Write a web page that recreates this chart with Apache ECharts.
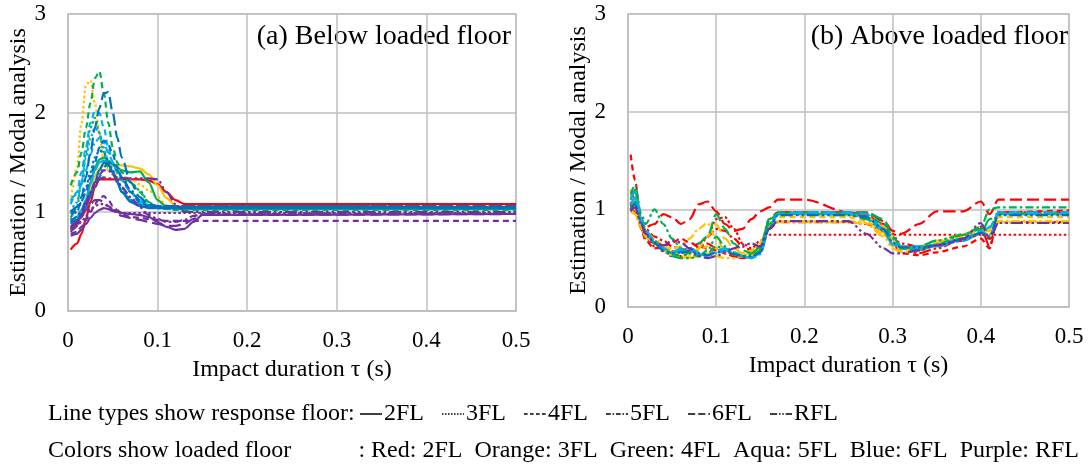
<!DOCTYPE html>
<html>
<head>
<meta charset="utf-8">
<script src="https://cdn.jsdelivr.net/npm/echarts@6.0.0/dist/echarts.min.js"></script>
<style>
  html, body { margin: 0; background: #fff; }
  #chart { width: 1089px; height: 469px; }
</style>
</head>
<body>
<div id="chart"></div>
<script>
// impact duration samples (s)
const tauBelow = [0.003, 0.01, 0.015, 0.02, 0.025, 0.03, 0.035, 0.04, 0.045, 0.05, 0.055, 0.06, 0.07, 0.08, 0.09, 0.1, 0.11, 0.12, 0.13, 0.14, 0.15, 0.5];
const tauAbove = [0.003, 0.008, 0.015, 0.02, 0.03, 0.04, 0.05, 0.06, 0.07, 0.08, 0.09, 0.1, 0.11, 0.12, 0.13, 0.14, 0.15, 0.16, 0.17, 0.2, 0.25, 0.27, 0.29, 0.3, 0.31, 0.33, 0.35, 0.38, 0.4, 0.41, 0.42, 0.5];

const yTicks = [0, 1, 2, 3];
const xTicks = [0, 0.1, 0.2, 0.3, 0.4, 0.5];

// (a) below loaded floor: loaded floor colour, response floor line type
const belowRed2FL    = [0.62, 0.68, 0.78, 0.93, 1.10, 1.25, 1.33, 1.33, 1.33, 1.33, 1.33, 1.33, 1.33, 1.33, 1.32, 1.28, 1.20, 1.12, 1.08, 1.08, 1.08, 1.08];
const belowOrange2FL = [0.80, 0.86, 0.96, 1.08, 1.22, 1.36, 1.44, 1.47, 1.47, 1.47, 1.47, 1.47, 1.46, 1.44, 1.38, 1.27, 1.14, 1.06, 1.04, 1.04, 1.04, 1.04];
const belowOrange3FL = [1.10, 1.45, 1.90, 2.28, 2.33, 2.10, 1.80, 1.50, 1.42, 1.40, 1.38, 1.36, 1.33, 1.28, 1.22, 1.15, 1.07, 1.04, 1.03, 1.03, 1.03, 1.03];
const belowGreen2FL  = [0.82, 0.88, 0.98, 1.12, 1.30, 1.45, 1.53, 1.55, 1.52, 1.48, 1.45, 1.42, 1.40, 1.41, 1.30, 1.12, 1.05, 1.03, 1.03, 1.03, 1.03, 1.03];
const belowGreen3FL  = [0.92, 1.05, 1.30, 1.60, 1.85, 1.95, 1.80, 1.60, 1.45, 1.38, 1.35, 1.33, 1.30, 1.22, 1.10, 1.04, 1.03, 1.03, 1.03, 1.03, 1.03, 1.03];
const belowGreen4FL  = [1.27, 1.40, 1.60, 1.85, 2.10, 2.35, 2.42, 2.20, 1.90, 1.65, 1.50, 1.40, 1.30, 1.20, 1.10, 1.05, 1.03, 1.02, 1.02, 1.02, 1.02, 1.02];
const belowAqua2FL   = [0.90, 0.95, 1.02, 1.12, 1.28, 1.42, 1.50, 1.52, 1.48, 1.40, 1.30, 1.20, 1.12, 1.08, 1.06, 1.05, 1.05, 1.05, 1.05, 1.05, 1.05, 1.05];
const belowAqua3FL   = [1.00, 1.10, 1.30, 1.55, 1.75, 1.85, 1.80, 1.65, 1.50, 1.40, 1.30, 1.22, 1.12, 1.07, 1.05, 1.04, 1.04, 1.04, 1.04, 1.04, 1.04, 1.04];
const belowAqua4FL   = [1.08, 1.20, 1.40, 1.65, 1.90, 2.02, 2.00, 1.85, 1.65, 1.50, 1.40, 1.32, 1.20, 1.10, 1.06, 1.05, 1.05, 1.05, 1.05, 1.05, 1.05, 1.05];
const belowAqua5FL   = [1.12, 1.18, 1.28, 1.42, 1.58, 1.70, 1.75, 1.70, 1.60, 1.50, 1.40, 1.32, 1.20, 1.12, 1.07, 1.05, 1.04, 1.04, 1.04, 1.04, 1.04, 1.04];
const belowBlue2FL   = [0.88, 0.92, 0.98, 1.05, 1.15, 1.30, 1.42, 1.50, 1.48, 1.40, 1.30, 1.20, 1.10, 1.06, 1.04, 1.04, 1.04, 1.04, 1.04, 1.04, 1.04, 1.04];
const belowBlue3FL   = [0.95, 1.00, 1.10, 1.25, 1.40, 1.55, 1.62, 1.60, 1.52, 1.42, 1.32, 1.24, 1.12, 1.07, 1.05, 1.05, 1.05, 1.05, 1.05, 1.05, 1.05, 1.05];
const belowBlue4FL   = [0.98, 1.02, 1.10, 1.20, 1.35, 1.50, 1.65, 1.72, 1.68, 1.58, 1.45, 1.35, 1.20, 1.10, 1.06, 1.05, 1.05, 1.05, 1.05, 1.05, 1.05, 1.05];
const belowBlue5FL   = [0.90, 0.95, 1.02, 1.10, 1.18, 1.25, 1.35, 1.45, 1.50, 1.48, 1.42, 1.35, 1.22, 1.12, 1.07, 1.06, 1.06, 1.06, 1.06, 1.06, 1.06, 1.06];
const belowBlue6FL   = [1.00, 1.05, 1.15, 1.35, 1.60, 1.85, 2.05, 2.20, 2.21, 2.00, 1.75, 1.55, 1.30, 1.15, 1.08, 1.06, 1.06, 1.06, 1.06, 1.06, 1.06, 1.06];
const belowPurple2FL = [0.76, 0.78, 0.82, 0.88, 0.94, 0.99, 1.02, 1.04, 1.03, 1.01, 1.00, 0.99, 0.98, 0.97, 0.95, 0.90, 0.85, 0.82, 0.83, 0.90, 0.97, 0.98];
const belowPurple3FL = [0.84, 0.86, 0.90, 0.96, 1.02, 1.06, 1.08, 1.08, 1.06, 1.03, 1.00, 0.99, 0.99, 0.99, 0.99, 0.99, 0.99, 0.99, 0.99, 0.99, 0.99, 0.99];
const belowPurple4FL = [0.78, 0.80, 0.85, 0.92, 1.00, 1.08, 1.14, 1.16, 1.12, 1.06, 1.02, 0.98, 0.95, 0.94, 0.93, 0.92, 0.91, 0.91, 0.91, 0.91, 0.91, 0.91];
const belowPurple5FL = [0.80, 0.85, 0.95, 1.08, 1.20, 1.30, 1.38, 1.42, 1.42, 1.38, 1.32, 1.25, 1.15, 1.05, 0.97, 0.93, 0.90, 0.90, 0.92, 0.96, 0.98, 0.98];
const belowPurple6FL = [0.83, 0.88, 0.95, 1.02, 1.08, 1.12, 1.12, 1.10, 1.06, 1.02, 0.98, 0.96, 0.94, 0.92, 0.90, 0.88, 0.86, 0.86, 0.88, 0.93, 0.97, 0.98];
const belowPurpleRFL = [0.85, 0.90, 0.98, 1.10, 1.20, 1.28, 1.33, 1.35, 1.34, 1.34, 1.34, 1.34, 1.34, 1.34, 1.34, 1.33, 1.20, 1.08, 1.00, 1.00, 1.00, 1.00];

// (b) above loaded floor
const aboveRed3FL    = [1.05, 1.20, 0.85, 0.72, 0.62, 0.57, 0.52, 0.52, 0.55, 0.60, 0.72, 0.90, 0.92, 0.80, 0.65, 0.60, 0.68, 0.74, 0.74, 0.74, 0.74, 0.74, 0.74, 0.74, 0.74, 0.74, 0.74, 0.74, 0.74, 0.74, 0.74, 0.74];
const aboveRed4FL    = [1.56, 1.30, 0.80, 0.68, 0.60, 0.62, 0.66, 0.70, 0.66, 0.62, 0.60, 0.58, 0.55, 0.52, 0.50, 0.52, 0.60, 0.82, 0.97, 0.97, 0.97, 0.95, 0.82, 0.65, 0.55, 0.53, 0.56, 0.62, 0.70, 0.60, 0.97, 0.99];
const aboveRed5FL    = [1.20, 1.10, 0.88, 0.80, 0.72, 0.68, 0.62, 0.58, 0.60, 0.65, 0.72, 0.80, 0.78, 0.70, 0.62, 0.58, 0.62, 0.80, 0.87, 0.87, 0.87, 0.85, 0.78, 0.70, 0.65, 0.62, 0.63, 0.68, 0.75, 0.70, 0.87, 0.87];
const aboveRed6FL    = [1.00, 1.05, 0.90, 0.82, 0.85, 0.95, 0.92, 0.85, 0.90, 1.05, 1.08, 0.98, 0.85, 0.78, 0.80, 0.90, 0.98, 1.02, 1.10, 1.10, 0.97, 0.97, 0.88, 0.78, 0.75, 0.85, 0.98, 0.98, 1.08, 0.95, 1.10, 1.10];
const aboveRedRFL    = [1.05, 0.98, 0.80, 0.70, 0.65, 0.60, 0.57, 0.55, 0.58, 0.62, 0.65, 0.60, 0.55, 0.52, 0.50, 0.52, 0.60, 0.88, 0.97, 0.97, 0.97, 0.93, 0.85, 0.75, 0.60, 0.55, 0.60, 0.70, 0.82, 0.62, 0.97, 0.97];
const aboveOrange4FL = [1.20, 1.10, 0.88, 0.78, 0.70, 0.63, 0.58, 0.55, 0.55, 0.58, 0.62, 0.60, 0.56, 0.54, 0.52, 0.54, 0.62, 0.85, 0.92, 0.92, 0.92, 0.88, 0.75, 0.62, 0.58, 0.60, 0.65, 0.72, 0.80, 0.72, 0.92, 0.92];
const aboveOrange5FL = [1.00, 1.00, 0.82, 0.72, 0.65, 0.62, 0.60, 0.62, 0.70, 0.80, 0.86, 0.70, 0.58, 0.55, 0.55, 0.58, 0.65, 0.84, 0.88, 0.88, 0.88, 0.86, 0.76, 0.65, 0.60, 0.62, 0.68, 0.74, 0.78, 0.78, 0.88, 0.88];
const aboveOrange6FL = [1.15, 1.08, 0.85, 0.75, 0.66, 0.58, 0.53, 0.50, 0.52, 0.60, 0.72, 0.85, 0.70, 0.60, 0.55, 0.53, 0.60, 0.82, 0.95, 0.95, 0.94, 0.92, 0.82, 0.70, 0.62, 0.60, 0.66, 0.75, 0.80, 0.80, 0.95, 0.95];
const aboveOrangeRFL = [0.98, 0.95, 0.80, 0.72, 0.65, 0.60, 0.56, 0.52, 0.50, 0.52, 0.55, 0.52, 0.50, 0.50, 0.52, 0.56, 0.65, 0.84, 0.87, 0.87, 0.87, 0.85, 0.72, 0.60, 0.56, 0.58, 0.64, 0.72, 0.80, 0.75, 0.87, 0.87];
const aboveGreen5FL  = [1.15, 1.25, 0.95, 0.85, 1.00, 0.85, 0.70, 0.60, 0.55, 0.52, 0.55, 0.62, 0.60, 0.55, 0.52, 0.54, 0.62, 0.90, 0.97, 0.97, 0.97, 0.96, 0.85, 0.70, 0.60, 0.58, 0.64, 0.74, 0.82, 1.00, 1.02, 1.02];
const aboveGreen6FL  = [1.10, 1.20, 0.90, 0.78, 0.68, 0.60, 0.55, 0.52, 0.56, 0.65, 0.72, 0.95, 0.80, 0.65, 0.58, 0.55, 0.60, 0.88, 0.96, 0.96, 0.96, 0.97, 0.90, 0.72, 0.62, 0.60, 0.64, 0.70, 0.76, 0.90, 0.96, 0.96];
const aboveGreenRFL  = [1.00, 1.08, 0.88, 0.75, 0.65, 0.58, 0.52, 0.50, 0.50, 0.52, 0.58, 0.72, 0.62, 0.56, 0.52, 0.50, 0.58, 0.85, 0.95, 0.95, 0.95, 0.90, 0.78, 0.64, 0.60, 0.62, 0.68, 0.74, 0.80, 0.82, 0.95, 0.95];
const aboveAqua6FL   = [1.10, 1.18, 0.90, 0.78, 0.68, 0.60, 0.55, 0.58, 0.60, 0.56, 0.52, 0.58, 0.60, 0.56, 0.52, 0.50, 0.55, 0.80, 0.95, 0.97, 0.97, 0.95, 0.80, 0.66, 0.62, 0.62, 0.64, 0.70, 0.78, 0.72, 0.97, 0.97];
const aboveAquaRFL   = [1.05, 1.12, 0.88, 0.76, 0.66, 0.60, 0.56, 0.60, 0.58, 0.54, 0.52, 0.55, 0.58, 0.55, 0.52, 0.50, 0.54, 0.82, 0.95, 0.95, 0.95, 0.92, 0.78, 0.64, 0.60, 0.60, 0.62, 0.68, 0.75, 0.82, 0.95, 0.95];
const aboveBlueRFL   = [1.00, 1.05, 0.86, 0.74, 0.65, 0.58, 0.55, 0.56, 0.57, 0.55, 0.53, 0.56, 0.57, 0.54, 0.52, 0.52, 0.56, 0.80, 0.94, 0.94, 0.94, 0.92, 0.80, 0.66, 0.61, 0.61, 0.63, 0.69, 0.76, 0.72, 0.94, 0.94];
const abovePurpleRFL = [0.98, 1.02, 0.85, 0.75, 0.66, 0.63, 0.68, 0.66, 0.60, 0.52, 0.50, 0.52, 0.56, 0.60, 0.64, 0.65, 0.62, 0.80, 0.88, 0.88, 0.88, 0.75, 0.60, 0.55, 0.55, 0.58, 0.63, 0.70, 0.86, 0.70, 0.86, 0.86];

const floorColors = {
  red: '#FF0000', orange: '#FFC000', green: '#00B050',
  aqua: '#00B0F0', blue: '#0070C0', purple: '#7030A0'
};
const floorDashes = {
  '2FL': 'solid', '3FL': [2.5, 2.5], '4FL': [6, 4],
  '5FL': [8, 3, 2.5, 3], '6FL': [12, 5], 'RFL': [12, 3, 2.5, 3, 2.5, 3]
};
const legendFloors = ['2FL', '3FL', '4FL', '5FL', '6FL', 'RFL'];

const belowList = [
  ['red', '2FL', belowRed2FL],
  ['orange', '2FL', belowOrange2FL], ['orange', '3FL', belowOrange3FL],
  ['green', '2FL', belowGreen2FL], ['green', '3FL', belowGreen3FL], ['green', '4FL', belowGreen4FL],
  ['aqua', '2FL', belowAqua2FL], ['aqua', '3FL', belowAqua3FL], ['aqua', '4FL', belowAqua4FL], ['aqua', '5FL', belowAqua5FL],
  ['blue', '2FL', belowBlue2FL], ['blue', '3FL', belowBlue3FL], ['blue', '4FL', belowBlue4FL], ['blue', '5FL', belowBlue5FL], ['blue', '6FL', belowBlue6FL],
  ['purple', '2FL', belowPurple2FL], ['purple', '3FL', belowPurple3FL], ['purple', '4FL', belowPurple4FL],
  ['purple', '5FL', belowPurple5FL], ['purple', '6FL', belowPurple6FL], ['purple', 'RFL', belowPurpleRFL]
];
const aboveList = [
  ['red', '3FL', aboveRed3FL], ['red', '4FL', aboveRed4FL], ['red', '5FL', aboveRed5FL], ['red', '6FL', aboveRed6FL], ['red', 'RFL', aboveRedRFL],
  ['orange', '4FL', aboveOrange4FL], ['orange', '5FL', aboveOrange5FL], ['orange', '6FL', aboveOrange6FL], ['orange', 'RFL', aboveOrangeRFL],
  ['green', '5FL', aboveGreen5FL], ['green', '6FL', aboveGreen6FL], ['green', 'RFL', aboveGreenRFL],
  ['aqua', '6FL', aboveAqua6FL], ['aqua', 'RFL', aboveAquaRFL],
  ['blue', 'RFL', aboveBlueRFL],
  ['purple', 'RFL', abovePurpleRFL]
];

const FONT = '"Liberation Serif", "Times New Roman", serif';
const GRID_COLOR = '#BFBFBF';

function makeSeries(list, xs, idx) {
  return list.map(([c, floor, ys]) => ({
    type: 'line',
    xAxisIndex: idx,
    yAxisIndex: idx,
    data: xs.map((x, i) => [x, ys[i]]),
    symbol: 'none',
    smooth: 0.3,
    smoothMonotone: 'x',
    silent: true,
    lineStyle: { color: floorColors[c], width: 2.2, type: floorDashes[floor] }
  }));
}

function xAxis(idx) {
  return {
    type: 'value', gridIndex: idx, min: xTicks[0], max: xTicks[xTicks.length - 1], interval: 0.1,
    name: 'Impact duration τ (s)', nameLocation: 'middle', nameGap: 47,
    nameTextStyle: { fontFamily: FONT, fontSize: 24, color: '#000' },
    axisLine: { lineStyle: { color: GRID_COLOR, width: 1.5 } },
    axisTick: { show: false },
    axisLabel: { fontFamily: FONT, fontSize: 23, color: '#000', margin: 18 },
    splitLine: { lineStyle: { color: GRID_COLOR, width: 1.5 } }
  };
}

function yAxis(idx) {
  return {
    type: 'value', gridIndex: idx, min: yTicks[0], max: yTicks[yTicks.length - 1], interval: 1,
    name: 'Estimation / Modal analysis', nameLocation: 'middle', nameGap: 37,
    nameTextStyle: { fontFamily: FONT, fontSize: 24, color: '#000' },
    axisLine: { show: true, lineStyle: { color: GRID_COLOR, width: 1.5 } },
    axisTick: { show: false },
    axisLabel: { fontFamily: FONT, fontSize: 23, color: '#000', margin: 22 },
    splitLine: { lineStyle: { color: GRID_COLOR, width: 1.5 } }
  };
}

// legend rows: line samples drawn as short black segments
const legendGraphics = [];
const rowY1 = 414, rowY2 = 451;
legendGraphics.push({
  type: 'text', left: 48, top: rowY1 - 12,
  style: { text: 'Line types show response floor:', font: '24px ' + FONT, fill: '#000' }
});
legendFloors.forEach((f, i) => {
  const x0 = 360 + i * 82;
  legendGraphics.push({
    type: 'line',
    shape: { x1: x0, y1: rowY1, x2: x0 + 22, y2: rowY1 },
    style: { stroke: '#000', lineWidth: 1.5, lineDash: f === '2FL' ? null : floorDashes[f].map(v => v * 0.6) }
  });
  legendGraphics.push({
    type: 'text', left: x0 + 24, top: rowY1 - 12,
    style: { text: f, font: '24px ' + FONT, fill: '#000' }
  });
});
legendGraphics.push({
  type: 'text', left: 48, top: rowY2 - 12,
  style: { text: 'Colors show loaded floor', font: '24px ' + FONT, fill: '#000' }
});
legendGraphics.push({
  type: 'text', right: 10, top: rowY2 - 12,
  style: { text: ': Red: 2FL  Orange: 3FL  Green: 4FL  Aqua: 5FL  Blue: 6FL  Purple: RFL', font: '24px ' + FONT, fill: '#000' }
});

const chart = echarts.init(document.getElementById('chart'));
chart.setOption({
  animation: false,
  backgroundColor: '#fff',
  grid: [
    { left: 68, top: 14, width: 448, height: 297, show: true, borderColor: GRID_COLOR, borderWidth: 1.5 },
    { left: 628, top: 14, width: 441, height: 293, show: true, borderColor: GRID_COLOR, borderWidth: 1.5 }
  ],
  xAxis: [xAxis(0), xAxis(1)],
  yAxis: [yAxis(0), yAxis(1)],
  graphic: [
    {
      type: 'text', right: 1089 - 511, top: 23,
      style: { text: '(a) Below loaded floor', font: '28px ' + FONT, fill: '#000' }
    },
    {
      type: 'text', right: 1089 - 1068, top: 23,
      style: { text: '(b) Above loaded floor', font: '28px ' + FONT, fill: '#000' }
    },
    ...legendGraphics
  ],
  series: [...makeSeries(belowList, tauBelow, 0), ...makeSeries(aboveList, tauAbove, 1)]
});
</script>
</body>
</html>
